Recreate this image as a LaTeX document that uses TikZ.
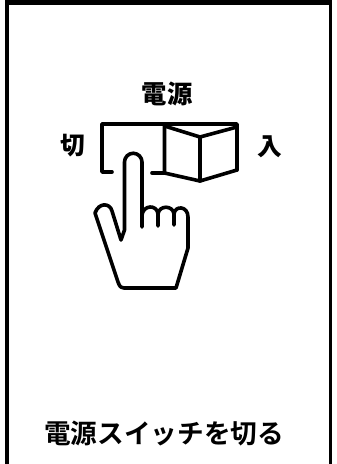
\documentclass[tikz,border=0pt]{standalone}
\usepackage{fontspec}
\newfontfamily\jp[BoldFont={Noto Sans CJK JP Black}]{Noto Sans CJK JP Medium}
\newfontfamily\jpcap{Noto Sans CJK JP Bold}
\begin{document}
\begin{tikzpicture}[x=0.75pt,y=-0.75pt,
  ink/.style={line width=2.7pt, line cap=round, line join=round},
  label/.style={font=\jp\bfseries\fontsize{18.5}{20}\selectfont, inner sep=0pt}]
\useasboundingbox (0,0) rectangle (336,464);
% panel frame, open at the bottom
\draw[line width=3.75pt] (5,2.5) -- (332,2.5);
\draw[line width=3pt] (7,0) -- (7,464);
\draw[line width=1.8pt] (330.6,0) -- (330.6,464);
% labels
\node[label, font=\jp\bfseries\fontsize{19}{21}\selectfont] (power) at (167,94) {電源};
\node[label] (off) at (73,146) {切};
\node[label] (on) at (270,147) {入};
\node[font=\jpcap\fontsize{20}{22}\selectfont, inner sep=0pt] (caption) at (164,434) {電源スイッチを切る};
% switch housing
\draw[ink] (112,172) -- (102,172) -- (102,124) -- (237,124) -- (237,170);
\draw[ink] (152,173) -- (164.5,173);
% rocker
\draw[ink] (164.5,124) -- (164.5,173) -- (200,181) -- (237,170);
\draw[ink] (164.5,126) -- (200,137) -- (237,127);
\draw[ink] (200,137) -- (200,181);
% hand
\draw[ink] (142,227) -- (142,162) arc[start angle=0, end angle=-180, radius=8.75]
  -- (124.5,230) -- (121,240) -- (112,211)
  .. controls (110,203) and (99,202) .. (95,213)
  -- (118,282) .. controls (120,287) .. (124,288) -- (176,288) -- (188,248) -- (188,217)
  .. controls (188,206) and (175,205) .. (174,214) -- (174,225);
\draw[ink] (142,215) .. controls (143,205) and (157,204) .. (158,214) -- (158,226);
\draw[ink] (158,214) .. controls (159,205) and (173,205) .. (174,214);
\end{tikzpicture}
\end{document}
